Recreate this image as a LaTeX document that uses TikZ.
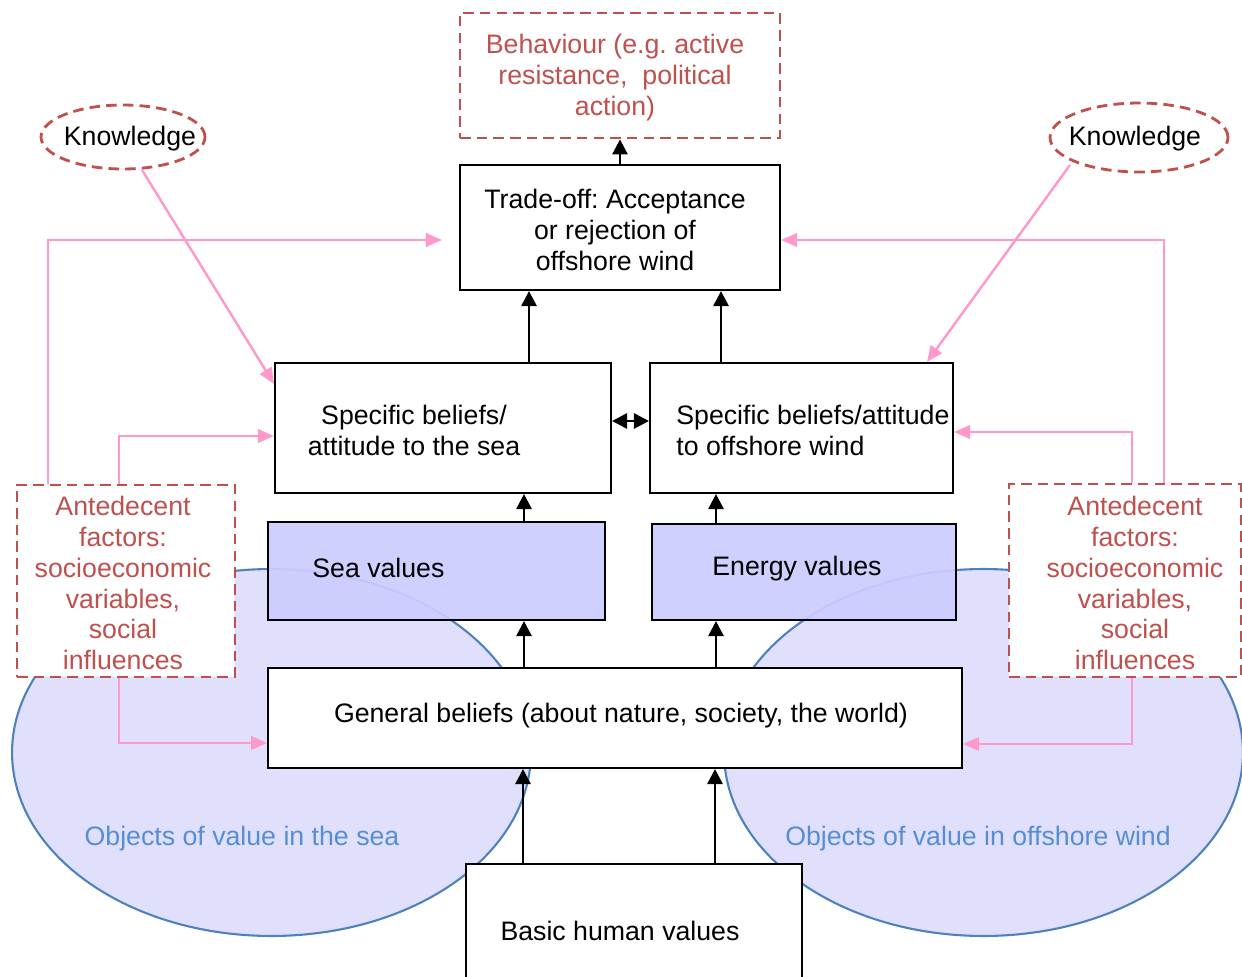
\documentclass[tikz,border=0pt]{standalone}
\usepackage{fontspec}
\setmainfont{Liberation Sans}
\usetikzlibrary{arrows.meta,shapes.geometric,calc}
\definecolor{dashred}{HTML}{C0504D}
\definecolor{linkpink}{HTML}{FF99CC}
\definecolor{valfill}{HTML}{CCCCFF}
\definecolor{objfill}{HTML}{E0E0FC}
\definecolor{objedge}{HTML}{4F81BD}
\definecolor{objtext}{HTML}{558ED5}
\frenchspacing

\begin{document}
\begin{tikzpicture}[x=0.02cm,y=-0.02cm,
  every node/.style={font=\fontsize{15.2}{17.6}\selectfont, inner sep=0pt},
  box/.style={rectangle, draw=black, line width=1.2pt, fill=white},
  valbox/.style={rectangle, draw=black, line width=1.2pt, fill=valfill, fill opacity=0.93},
  factor/.style={rectangle, draw=dashred, line width=1.6pt, dash pattern=on 6pt off 3.5pt,
                 fill=white},
  know/.style={ellipse, draw=dashred, line width=1.6pt, dash pattern=on 6pt off 3.5pt, fill=white},
  objects/.style={ellipse, draw=objedge, line width=1.2pt, fill=objfill,
                  minimum width=10.38cm, minimum height=7.34cm},
  link/.style={draw=black, line width=1.6pt, -{Triangle[length=0.3cm,width=0.3cm]}},
  dlink/.style={draw=black, line width=1.6pt, {Triangle[length=0.3cm,width=0.3cm]}-{Triangle[length=0.3cm,width=0.3cm]}},
  pinklink/.style={draw=linkpink, line width=1.4pt, -{Triangle[length=0.32cm,width=0.27cm]}},
  ]
\clip (0,0) rectangle (1242,977);

% objects of value (background ellipses)
\node[objects] (objSea) at (271.5,752.5) {};
\node[objects] (objWind) at (983.5,752.5) {};
\node[text=objtext] (objSeaT) at (242,839) {Objects of value in the sea};
\node[text=objtext] (objWindT) at (978,839) {Objects of value in offshore wind};

% main boxes
\node[factor, minimum width=6.4cm, minimum height=2.5cm] (beh) at (620,75.5) {};
\node[text=dashred, align=center] (behT) at (615,78)
  {Behaviour (e.g. active\\resistance,\ \ political\\action)};
\node[box, minimum width=6.4cm, minimum height=2.5cm] (trade) at (620,227.5) {};
\node[align=center] (tradeT) at (615,230)
  {Trade-off: Acceptance\\or rejection of\\offshore wind};
\node[box, minimum width=6.72cm, minimum height=2.6cm] (specS) at (443,428) {};
\node[align=center] (specST) at (414,430) {Specific beliefs/\\attitude to the sea};
\node[box, minimum width=6.06cm, minimum height=2.6cm] (specW) at (801.5,428) {};
\node[align=left, anchor=west] (specWT) at (676,430) {Specific beliefs/attitude\\to offshore wind};
\node[valbox, minimum width=6.74cm, minimum height=1.96cm] (seaV) at (436.5,571) {};
\node[anchor=west] (seaVT) at (312,568) {Sea values};
\node[valbox, minimum width=6.08cm, minimum height=1.92cm] (enV) at (804,572) {};
\node (enVT) at (797,569) {Energy values};
\node[box, minimum width=13.88cm, minimum height=2.0cm] (gen) at (615,718) {};
\node (genT) at (621,716) {General beliefs (about nature, society, the world)};
\node[box, minimum width=6.72cm, minimum height=2.72cm] (basic) at (634,932) {};
\node (basicT) at (620,931) {Basic human values};

% knowledge and antecedent factors
\node[know, minimum width=3.28cm, minimum height=1.28cm] (kL) at (123,137) {};
\node (kLT) at (130,139) {Knowledge};
\node[know, minimum width=3.56cm, minimum height=1.38cm] (kR) at (1139,137.5) {};
\node (kRT) at (1135,139) {Knowledge};
\node[factor, minimum width=4.36cm, minimum height=3.84cm] (antL) at (126,581) {};
\node[text=dashred, align=center] (antLT) at (123,583)
  {Antedecent\\factors:\\socioeconomic\\variables,\\social\\influences};
\node[factor, minimum width=4.64cm, minimum height=3.86cm] (antR) at (1125,580.5) {};
\node[text=dashred, align=center] (antRT) at (1135,583)
  {Antedecent\\factors:\\socioeconomic\\variables,\\social\\influences};

% helper coordinates for connector positions
\coordinate (xA) at (48,0);
\coordinate (xB) at (119,0);
\coordinate (xC) at (1164,0);
\coordinate (xD) at (1132,0);
\coordinate (xS1) at (529,0);
\coordinate (xW1) at (721,0);
\coordinate (xS2) at (524,0);
\coordinate (xW2) at (716,0);
\coordinate (xS3) at (523,0);
\coordinate (xW3) at (715,0);
\coordinate (xK) at (927,0);
\coordinate (yT) at (0,240);
\coordinate (yS) at (0,436);
\coordinate (yW) at (0,432);
\coordinate (yGL) at (0,743);
\coordinate (yGR) at (0,744);
\coordinate (yD) at (0,421);

% pink influence connectors
\draw[pinklink, shorten >=0.34cm] (antL.north -| xA) -- (xA |- yT) -- (trade.west |- yT);
\draw[pinklink] (antL.north -| xB) |- (specS.west |- yS);
\draw[pinklink] (antL.south -| xB) |- (gen.west |- yGL);
\draw[pinklink] (antR.north -| xC) |- (trade.east |- yT);
\draw[pinklink] (antR.north -| xD) |- (specW.east |- yW);
\draw[pinklink] (antR.south -| xD) |- (gen.east |- yGR);
\draw[pinklink] (kL.-60) -- ($(specS.north west)+(0,22)$);
\draw[pinklink] ($(kR.center)+(-69,27.5)$) -- (specW.north -| xK);

% black causal connectors
\draw[link] (trade.north) -- (beh.south);
\draw[link] (specS.north -| xS1) -- (trade.south -| xS1);
\draw[link] (specW.north -| xW1) -- (trade.south -| xW1);
\draw[dlink] (specS.east |- yD) -- (specW.west |- yD);
\draw[link] (seaV.north -| xS2) -- (specS.south -| xS2);
\draw[link] (enV.north -| xW2) -- (specW.south -| xW2);
\draw[link] (gen.north -| xS2) -- (seaV.south -| xS2);
\draw[link] (gen.north -| xW2) -- (enV.south -| xW2);
\draw[link] (basic.north -| xS3) -- (gen.south -| xS3);
\draw[link] (basic.north -| xW3) -- (gen.south -| xW3);
\end{tikzpicture}
\end{document}
